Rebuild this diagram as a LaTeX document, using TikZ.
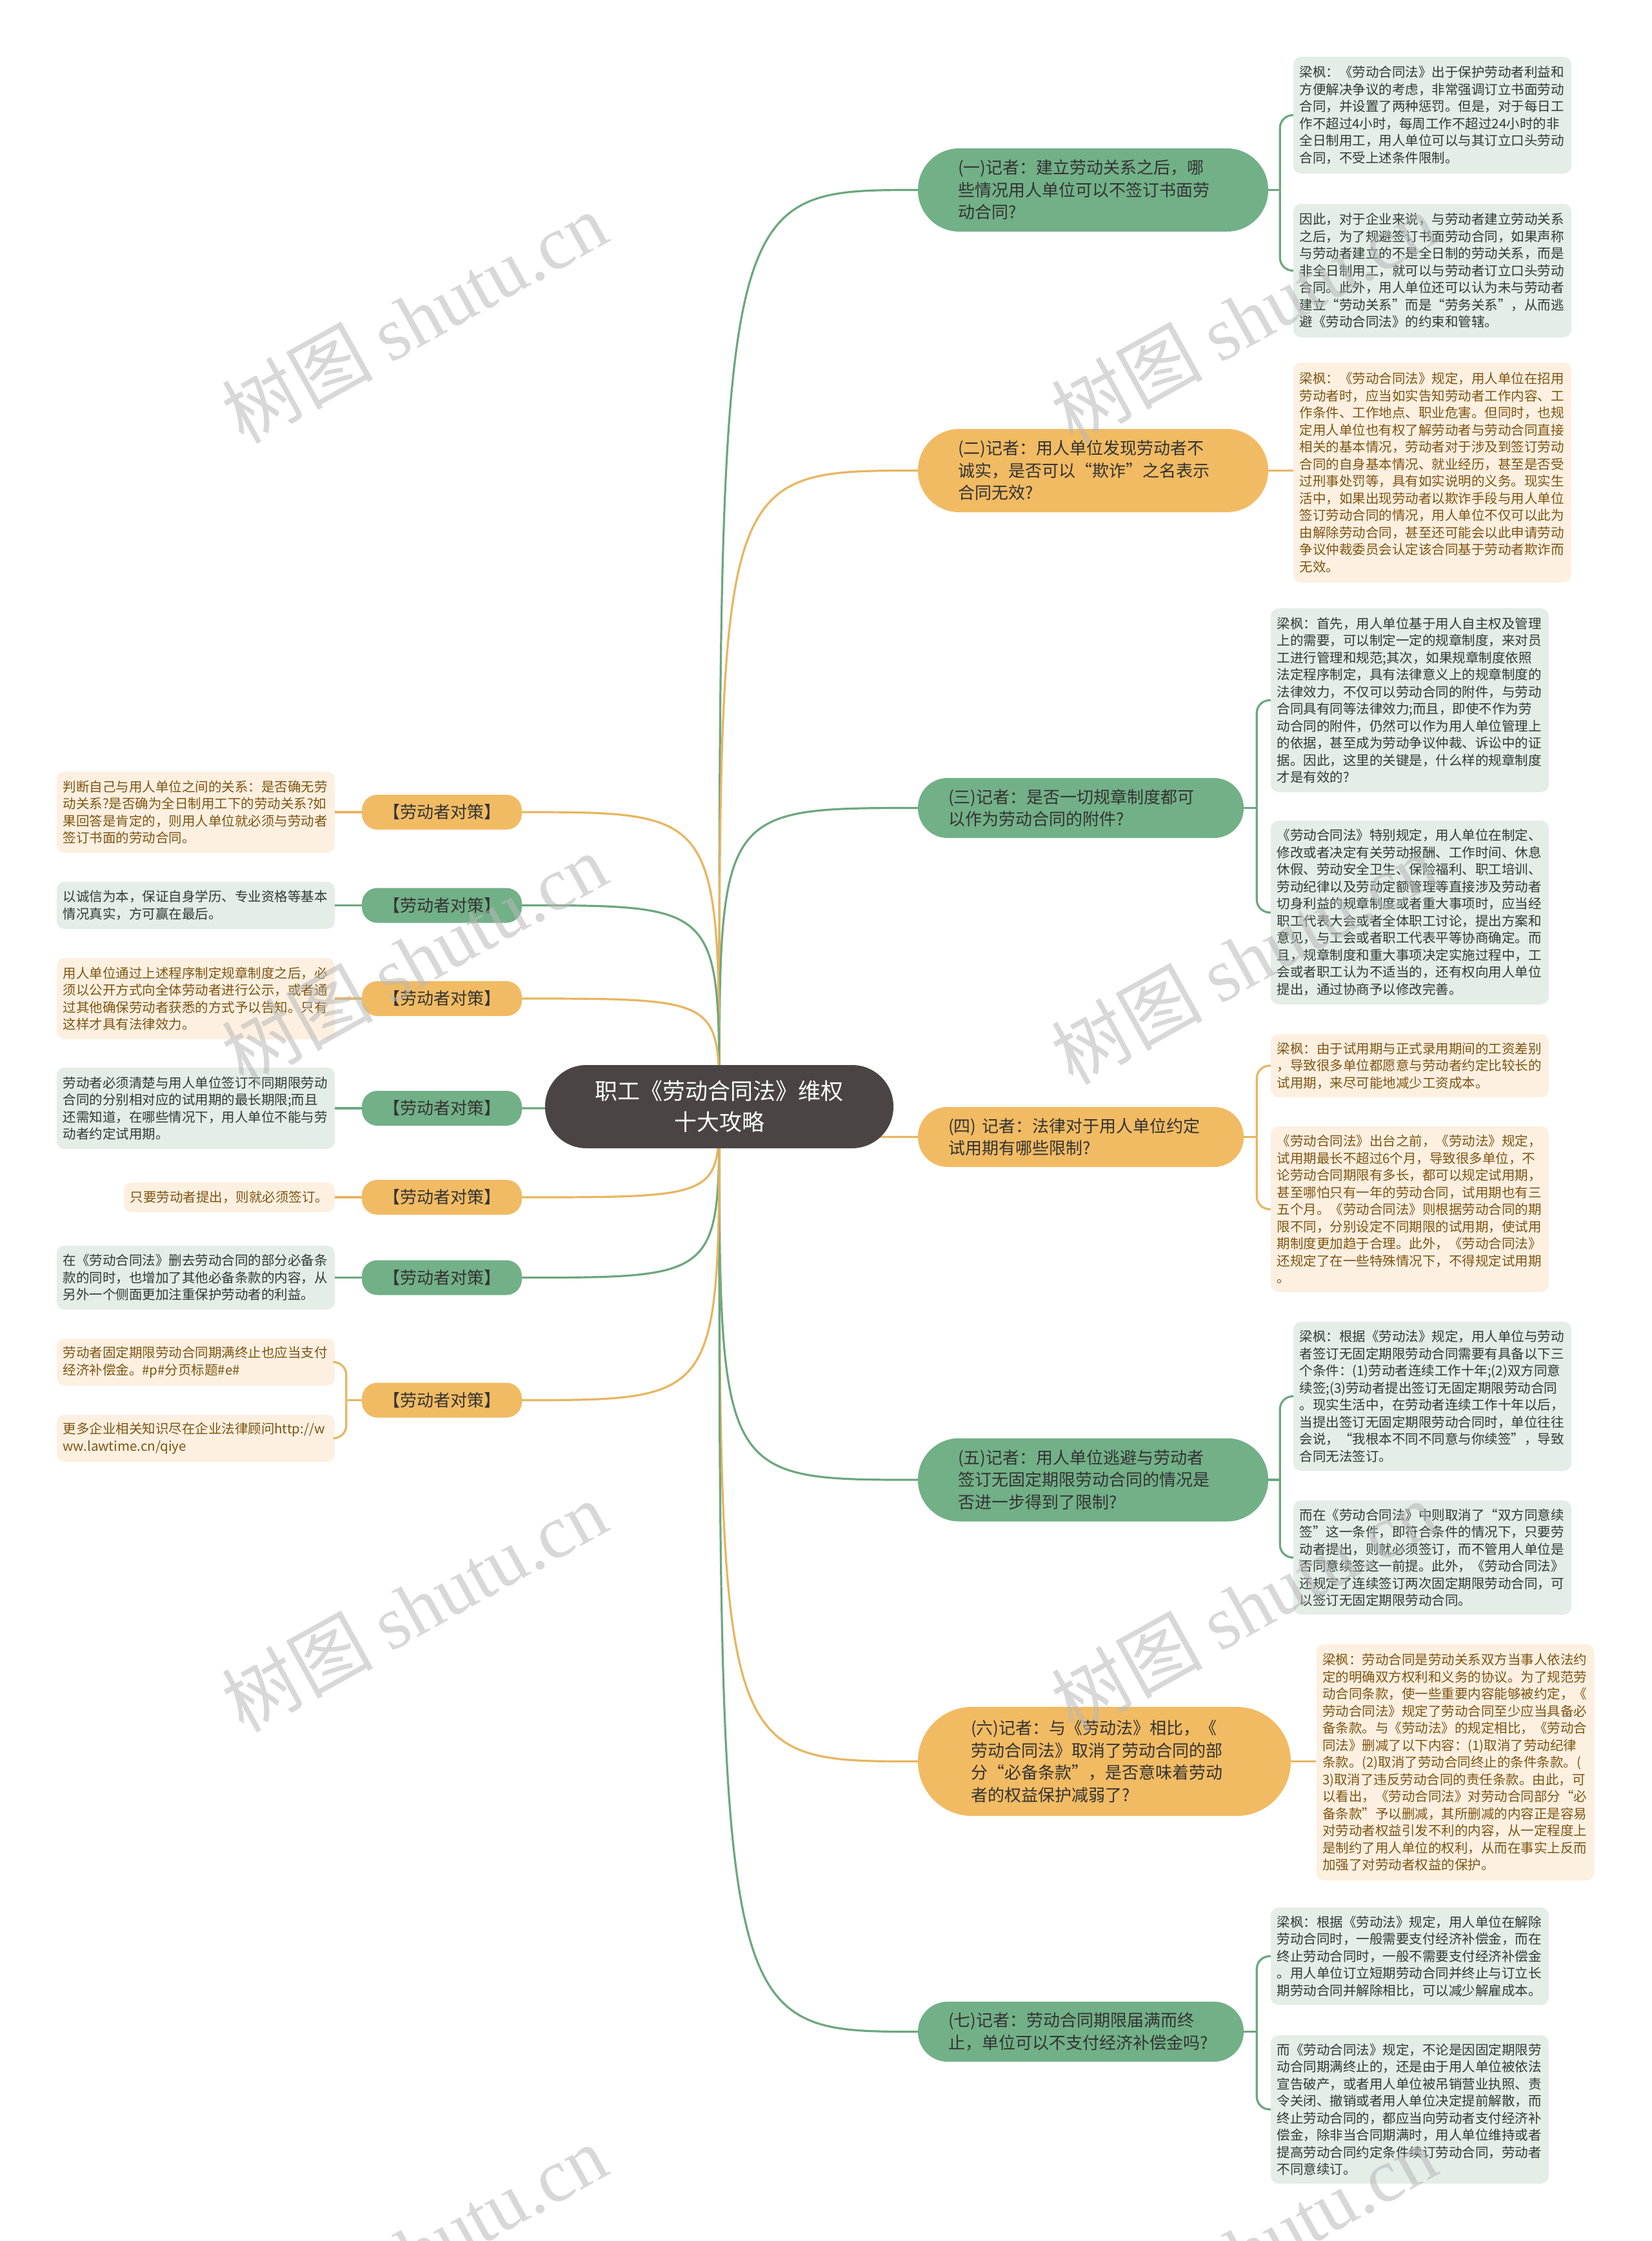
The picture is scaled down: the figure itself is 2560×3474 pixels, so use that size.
\documentclass[tikz,border=0pt]{standalone}
\usepackage{fontspec}
\setmainfont{Noto Sans CJK SC}
\newfontfamily\wmserif{Liberation Serif}
\newfontfamily\wmcjk{Noto Sans CJK SC}
\usetikzlibrary{backgrounds}
\definecolor{gfill}{HTML}{72B087}
\definecolor{ofill}{HTML}{F1BB63}
\definecolor{glf}{HTML}{E4EDE6}
\definecolor{olf}{HTML}{FDF0E1}
\definecolor{gtxt}{HTML}{2F3B33}
\definecolor{otxt}{HTML}{7D5512}
\definecolor{gline}{HTML}{6CA77E}
\definecolor{oline}{HTML}{E8B560}
\definecolor{cfill}{HTML}{4A4544}
\definecolor{ptxt}{HTML}{333333}
\tikzset{
 leafbase/.style={rounded corners=12pt, inner xsep=9.5pt, inner ysep=0pt, text width=412pt, align=left, font=\fontsize{20.5pt}{26.5pt}\selectfont, minimum width=431pt, anchor=center},
 leafG/.style={leafbase, fill=glf, text=gtxt},
 leafO/.style={leafbase, fill=olf, text=otxt},
 pillbase/.style={align=left, text=ptxt, font=\fontsize{26pt}{34.5pt}\selectfont, inner ysep=0pt},
 pillG/.style={pillbase, fill=gfill},
 pillO/.style={pillbase, fill=ofill},
 pilla/.style={minimum width=543pt, minimum height=129pt, rounded corners=64pt, text width=419pt, inner xsep=62pt},
 pillb/.style={minimum width=505pt, minimum height=93pt, rounded corners=46pt, text width=411pt, inner xsep=47pt},
 labbase/.style={minimum width=248pt, minimum height=54pt, rounded corners=24pt, inner sep=0pt, text=ptxt, font=\fontsize{26pt}{30pt}\selectfont},
 labG/.style={labbase, fill=gfill},
 labO/.style={labbase, fill=ofill},
 cg/.style={draw=gline, line width=3.2pt},
 co/.style={draw=oline, line width=3.2pt},
 wm/.style={text=black!28, opacity=0.55, rotate=29, inner sep=0pt, font=\fontsize{117pt}{122pt}\selectfont},
}
\begin{document}
\begin{tikzpicture}[x=1pt,y=-1pt]
\useasboundingbox (0,0) rectangle (2560,3474);
% center
\node[fill=cfill, text=white, minimum width=540pt, minimum height=129pt, rounded corners=64pt, align=center, inner sep=0pt, font=\fontsize{35pt}{48pt}\selectfont] (c) at (1115,1715.5) {职工《劳动合同法》维权\\十大攻略};
% right branches
\node[pillG, pilla] (b1) at (1694.5,294.5) {(一)记者：建立劳动关系之后，哪\\些情况用人单位可以不签订书面劳\\动合同?};
\node[pillO, pilla] (b2) at (1694.5,729.5) {(二)记者：用人单位发现劳动者不\\诚实，是否可以“欺诈”之名表示\\合同无效?};
\node[pillG, pillb] (b3) at (1675.5,1252.5) {(三)记者：是否一切规章制度都可\\以作为劳动合同的附件?};
\node[pillO, pillb] (b4) at (1675.5,1762.5) {(四) 记者：法律对于用人单位约定\\试用期有哪些限制?};
\node[pillG, pilla] (b5) at (1694.5,2294) {(五)记者：用人单位逃避与劳动者\\签订无固定期限劳动合同的情况是\\否进一步得到了限制?};
\node[pillO, minimum width=578pt, minimum height=169pt, rounded corners=84pt, text width=414pt, inner xsep=82pt] (b6) at (1712,2730.5) {(六)记者：与《劳动法》相比，《\\劳动合同法》取消了劳动合同的部\\分“必备条款”，是否意味着劳动\\者的权益保护减弱了?};
\node[pillG, pillb] (b7) at (1675.5,3149.5) {(七)记者：劳动合同期限届满而终\\止，单位可以不支付经济补偿金吗?};
% right leaves
\node[leafG, minimum height=181pt] (l1a) at (2220.5,178.5) {梁枫：《劳动合同法》出于保护劳动者利益和\\方便解决争议的考虑，非常强调订立书面劳动\\合同，并设置了两种惩罚。但是，对于每日工\\作不超过4小时，每周工作不超过24小时的非\\全日制用工，用人单位可以与其订立口头劳动\\合同，不受上述条件限制。};
\node[leafG, minimum height=207pt] (l1b) at (2220.5,419.5) {因此，对于企业来说，与劳动者建立劳动关系\\之后，为了规避签订书面劳动合同，如果声称\\与劳动者建立的不是全日制的劳动关系，而是\\非全日制用工，就可以与劳动者订立口头劳动\\合同。此外，用人单位还可以认为未与劳动者\\建立“劳动关系”而是“劳务关系”，从而逃\\避《劳动合同法》的约束和管辖。};
\node[leafO, minimum height=341pt] (l2) at (2220.5,732.5) {梁枫：《劳动合同法》规定，用人单位在招用\\劳动者时，应当如实告知劳动者工作内容、工\\作条件、工作地点、职业危害。但同时，也规\\定用人单位也有权了解劳动者与劳动合同直接\\相关的基本情况，劳动者对于涉及到签订劳动\\合同的自身基本情况、就业经历，甚至是否受\\过刑事处罚等，具有如实说明的义务。现实生\\活中，如果出现劳动者以欺诈手段与用人单位\\签订劳动合同的情况，用人单位不仅可以此为\\由解除劳动合同，甚至还可能会以此申请劳动\\争议仲裁委员会认定该合同基于劳动者欺诈而\\无效。};
\node[leafG, minimum height=285pt] (l3a) at (2185.5,1085.5) {梁枫：首先，用人单位基于用人自主权及管理\\上的需要，可以制定一定的规章制度，来对员\\工进行管理和规范;其次，如果规章制度依照\\法定程序制定，具有法律意义上的规章制度的\\法律效力，不仅可以劳动合同的附件，与劳动\\合同具有同等法律效力;而且，即使不作为劳\\动合同的附件，仍然可以作为用人单位管理上\\的依据，甚至成为劳动争议仲裁、诉讼中的证\\据。因此，这里的关键是，什么样的规章制度\\才是有效的?};
\node[leafG, minimum height=285pt] (l3b) at (2185.5,1414.5) {《劳动合同法》特别规定，用人单位在制定、\\修改或者决定有关劳动报酬、工作时间、休息\\休假、劳动安全卫生、保险福利、职工培训、\\劳动纪律以及劳动定额管理等直接涉及劳动者\\切身利益的规章制度或者重大事项时，应当经\\职工代表大会或者全体职工讨论，提出方案和\\意见，与工会或者职工代表平等协商确定。而\\且，规章制度和重大事项决定实施过程中，工\\会或者职工认为不适当的，还有权向用人单位\\提出，通过协商予以修改完善。};
\node[leafO, minimum height=98pt] (l4a) at (2185.5,1652) {梁枫：由于试用期与正式录用期间的工资差别\\，导致很多单位都愿意与劳动者约定比较长的\\试用期，来尽可能地减少工资成本。};
\node[leafO, minimum height=257pt] (l4b) at (2185.5,1874.5) {《劳动合同法》出台之前，《劳动法》规定，\\试用期最长不超过6个月，导致很多单位，不\\论劳动合同期限有多长，都可以规定试用期，\\甚至哪怕只有一年的劳动合同，试用期也有三\\五个月。《劳动合同法》则根据劳动合同的期\\限不同，分别设定不同期限的试用期，使试用\\期制度更加趋于合理。此外，《劳动合同法》\\还规定了在一些特殊情况下，不得规定试用期\\。};
\node[leafG, minimum height=231pt] (l5a) at (2220.5,2164.5) {梁枫：根据《劳动法》规定，用人单位与劳动\\者签订无固定期限劳动合同需要有具备以下三\\个条件：(1)劳动者连续工作十年;(2)双方同意\\续签;(3)劳动者提出签订无固定期限劳动合同\\。现实生活中，在劳动者连续工作十年以后，\\当提出签订无固定期限劳动合同时，单位往往\\会说，“我根本不同不同意与你续签”，导致\\合同无法签订。};
\node[leafG, minimum height=177pt] (l5b) at (2220.5,2414.5) {而在《劳动合同法》中则取消了“双方同意续\\签”这一条件，即符合条件的情况下，只要劳\\动者提出，则就必须签订，而不管用人单位是\\否同意续签这一前提。此外，《劳动合同法》\\还规定了连续签订两次固定期限劳动合同，可\\以签订无固定期限劳动合同。};
\node[leafO, minimum height=366pt] (l6) at (2256,2732) {梁枫：劳动合同是劳动关系双方当事人依法约\\定的明确双方权利和义务的协议。为了规范劳\\动合同条款，使一些重要内容能够被约定，《\\劳动合同法》规定了劳动合同至少应当具备必\\备条款。与《劳动法》的规定相比，《劳动合\\同法》删减了以下内容：(1)取消了劳动纪律\\条款。(2)取消了劳动合同终止的条件条款。(\\3)取消了违反劳动合同的责任条款。由此，可\\以看出，《劳动合同法》对劳动合同部分“必\\备条款”予以删减，其所删减的内容正是容易\\对劳动者权益引发不利的内容，从一定程度上\\是制约了用人单位的权利，从而在事实上反而\\加强了对劳动者权益的保护。};
\node[leafG, minimum height=151pt] (l7a) at (2185.5,3032.5) {梁枫：根据《劳动法》规定，用人单位在解除\\劳动合同时，一般需要支付经济补偿金，而在\\终止劳动合同时，一般不需要支付经济补偿金\\。用人单位订立短期劳动合同并终止与订立长\\期劳动合同并解除相比，可以减少解雇成本。};
\node[leafG, minimum height=230pt] (l7b) at (2185.5,3270) {而《劳动合同法》规定，不论是因固定期限劳\\动合同期满终止的，还是由于用人单位被依法\\宣告破产，或者用人单位被吊销营业执照、责\\令关闭、撤销或者用人单位决定提前解散，而\\终止劳动合同的，都应当向劳动者支付经济补\\偿金，除非当合同期满时，用人单位维持或者\\提高劳动合同约定条件续订劳动合同，劳动者\\不同意续订。};
% left labels
\node[labO] (L1) at (685,1259) {【劳动者对策】};
\node[labG] (L2) at (685,1403.5) {【劳动者对策】};
\node[labO] (L3) at (685,1548) {【劳动者对策】};
\node[labG] (L4) at (685,1718) {【劳动者对策】};
\node[labO] (L5) at (685,1856) {【劳动者对策】};
\node[labG] (L6) at (685,1980.5) {【劳动者对策】};
\node[labO] (L7) at (685,2170.5) {【劳动者对策】};
% left leaves
\node[leafO, minimum height=126pt] (ll1) at (303.5,1259) {判断自己与用人单位之间的关系：是否确无劳\\动关系?是否确为全日制用工下的劳动关系?如\\果回答是肯定的，则用人单位就必须与劳动者\\签订书面的劳动合同。};
\node[leafG, minimum height=73pt] (ll2) at (303.5,1403.5) {以诚信为本，保证自身学历、专业资格等基本\\情况真实，方可赢在最后。};
\node[leafO, minimum height=126pt] (ll3) at (303.5,1548) {用人单位通过上述程序制定规章制度之后，必\\须以公开方式向全体劳动者进行公示，或者通\\过其他确保劳动者获悉的方式予以告知。只有\\这样才具有法律效力。};
\node[leafG, minimum height=126pt] (ll4) at (303.5,1718) {劳动者必须清楚与用人单位签订不同期限劳动\\合同的分别相对应的试用期的最长期限;而且\\还需知道，在哪些情况下，用人单位不能与劳\\动者约定试用期。};
\node[leafO, minimum height=46pt, text width=308pt, minimum width=327pt] (ll5) at (355.5,1856) {只要劳动者提出，则就必须签订。};
\node[leafG, minimum height=99pt] (ll6) at (303.5,1980.5) {在《劳动合同法》删去劳动合同的部分必备条\\款的同时，也增加了其他必备条款的内容，从\\另外一个侧面更加注重保护劳动者的利益。};
\node[leafO, minimum height=73pt] (ll7a) at (303.5,2111.5) {劳动者固定期限劳动合同期满终止也应当支付\\经济补偿金。\#p\#分页标题\#e\#};
\node[leafO, minimum height=73pt] (ll7b) at (303.5,2229.5) {更多企业相关知识尽在企业法律顾问http://w\\ww.lawtime.cn/qiye};
% main connectors (behind)
\begin{scope}[on background layer]
\fill[white] (0,0) rectangle (2560,3474);
\draw[cg] (c.center) .. controls (c.center |- b1.west) .. (b1.west);
\draw[co] (c.center) .. controls (c.center |- b2.west) .. (b2.west);
\draw[cg] (c.center) .. controls (c.center |- b3.west) .. (b3.west);
\draw[co] (c.center) .. controls (c.center |- b4.west) .. (b4.west);
\draw[cg] (c.center) .. controls (c.center |- b5.west) .. (b5.west);
\draw[co] (c.center) .. controls (c.center |- b6.west) .. (b6.west);
\draw[cg] (c.center) .. controls (c.center |- b7.west) .. (b7.west);
\draw[co] (c.center) .. controls (c.center |- L1.east) .. (L1.east);
\draw[cg] (c.center) .. controls (c.center |- L2.east) .. (L2.east);
\draw[co] (c.center) .. controls (c.center |- L3.east) .. (L3.east);
\draw[cg] (c.center) .. controls (c.center |- L4.east) .. (L4.east);
\draw[co] (c.center) .. controls (c.center |- L5.east) .. (L5.east);
\draw[cg] (c.center) .. controls (c.center |- L6.east) .. (L6.east);
\draw[co] (c.center) .. controls (c.center |- L7.east) .. (L7.east);
\end{scope}
% right leaf connectors
\draw[cg] (b1.east) -- ++(18,0) coordinate (j1);
\draw[cg, rounded corners=20pt] (j1) |- (l1a.west);
\draw[cg, rounded corners=20pt] (j1) |- (l1b.west);
\draw[co] (b2.east) -- (b2.east -| l2.west);
\draw[cg] (b3.east) -- ++(20,0) coordinate (j3);
\draw[cg, rounded corners=20pt] (j3) |- (l3a.west);
\draw[cg, rounded corners=20pt] (j3) |- (l3b.west);
\draw[co] (b4.east) -- ++(20,0) coordinate (j4);
\draw[co, rounded corners=20pt] (j4) |- (l4a.west);
\draw[co, rounded corners=20pt] (j4) |- (l4b.west);
\draw[cg] (b5.east) -- ++(18,0) coordinate (j5);
\draw[cg, rounded corners=20pt] (j5) |- (l5a.west);
\draw[cg, rounded corners=20pt] (j5) |- (l5b.west);
\draw[co] (b6.east) -- (b6.east -| l6.west);
\draw[cg] (b7.east) -- ++(20,0) coordinate (j7);
\draw[cg, rounded corners=20pt] (j7) |- (l7a.west);
\draw[cg, rounded corners=20pt] (j7) |- (l7b.west);
% left leaf connectors
\draw[co] (L1.west) -- (L1.west -| ll1.east);
\draw[cg] (L2.west) -- (L2.west -| ll2.east);
\draw[co] (L3.west) -- (L3.west -| ll3.east);
\draw[cg] (L4.west) -- (L4.west -| ll4.east);
\draw[co] (L5.west) -- (L5.west -| ll5.east);
\draw[cg] (L6.west) -- (L6.west -| ll6.east);
\draw[co] (L7.west) -- ++(-24,0) coordinate (jL7);
\draw[co, rounded corners=20pt] (jL7) |- (ll7a.east);
\draw[co, rounded corners=20pt] (jL7) |- (ll7b.east);
% watermarks
\foreach \wx/\wy/\k in {642/492/1, 1928/492/2, 642/1486/3, 1928/1486/4, 642/2490/5, 1928/2490/6, 642/3488/7, 1928/3488/8}{
  \node[wm] (wm\k) at (\wx,\wy) {{\wmcjk 树图} {\wmserif shutu.cn}};
}
\end{tikzpicture}
\end{document}
